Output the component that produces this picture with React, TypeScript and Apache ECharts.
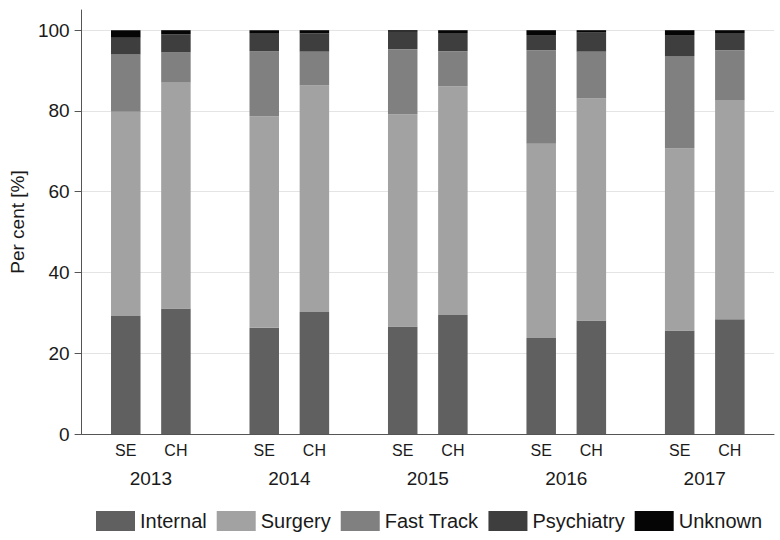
import React, { useEffect, useRef } from "react";
import * as echarts from "echarts";

const years = ["2013", "2014", "2015", "2016", "2017"];
const countries = ["SE", "CH"];
const categoriesNames = ["Internal", "Surgery", "Fast Track", "Psychiatry", "Unknown"];

// per-year values, [category][year]
const seInternal = [29.2, 26.3, 26.6, 23.8, 25.6];
const seSurgery = [50.6, 52.4, 52.6, 48.1, 45.1];
const seFastTrack = [14.2, 16.1, 16.1, 23.1, 22.9];
const sePsychiatry = [4.1, 4.5, 4.3, 3.8, 5.2];
const seUnknown = [1.9, 0.7, 0.4, 1.2, 1.2];

const chInternal = [31.1, 30.2, 29.5, 28.1, 28.4];
const chSurgery = [55.9, 56.1, 56.6, 55.0, 54.3];
const chFastTrack = [7.5, 8.4, 8.7, 11.6, 12.3];
const chPsychiatry = [4.5, 4.5, 4.5, 4.7, 4.3];
const chUnknown = [1.0, 0.8, 0.7, 0.6, 0.7];

const yTicks = [0, 20, 40, 60, 80, 100];

const colors = ["#606060", "#a2a2a2", "#808080", "#3e3e3e", "#050505"];

export default function App() {
  const ref = useRef<HTMLDivElement>(null);

  useEffect(() => {
    if (!ref.current) return;
    const chart = echarts.init(ref.current, null, { renderer: "svg" });
    const font = "'Liberation Sans', Arial, Helvetica, sans-serif";

    const seData = [seInternal, seSurgery, seFastTrack, sePsychiatry, seUnknown];
    const chData = [chInternal, chSurgery, chFastTrack, chPsychiatry, chUnknown];

    const series: any[] = [];
    [seData, chData].forEach((set, ci) => {
      set.forEach((vals, k) => {
        series.push({
          type: "bar",
          name: categoriesNames[k],
          stack: countries[ci],
          data: vals,
          barWidth: 29.5,
          barGap: "70%",
          itemStyle: { color: colors[k] },
          label:
            k === 0
              ? {
                  show: true,
                  position: "bottom",
                  distance: 8,
                  formatter: () => countries[ci],
                  fontSize: 16,
                  color: "#1a1a1a",
                  fontFamily: font,
                }
              : { show: false },
        });
      });
    });

    chart.setOption({
      animation: false,
      color: colors,
      textStyle: { fontFamily: font },
      grid: { left: 77, right: 6, top: 10, bottom: 106, containLabel: false },
      legend: {
        data: categoriesNames,
        left: 91,
        top: 506,
        itemWidth: 39,
        itemHeight: 20,
        itemGap: 10,
        icon: "rect",
        textStyle: { fontSize: 20, color: "#1a1a1a", fontFamily: font },
      },
      xAxis: {
        type: "category",
        data: years,
        axisLine: { lineStyle: { color: "#555555", width: 1 } },
        axisTick: { show: false },
        axisLabel: { margin: 35, fontSize: 19, color: "#1a1a1a", fontFamily: font },
      },
      yAxis: {
        type: "value",
        min: 0,
        max: 105,
        interval: 20,
        name: "Per cent [%]",
        nameLocation: "middle",
        nameGap: 49,
        nameTextStyle: { fontSize: 19, color: "#1a1a1a", fontFamily: font },
        axisLine: { show: true, lineStyle: { color: "#555555", width: 1 } },
        axisTick: { show: true, length: 7, lineStyle: { color: "#555555" }, customValues: yTicks },
        axisLabel: {
          margin: 12,
          fontSize: 19,
          color: "#1a1a1a",
          fontFamily: font,
          customValues: yTicks,
        },
        splitLine: { show: true, lineStyle: { color: "#e4e4e4", width: 1 } },
      },
      series,
    });

    return () => chart.dispose();
  }, []);

  return <div ref={ref} style={{ width: 780, height: 540, position: "absolute", left: 0, top: 0 }} />;
}
